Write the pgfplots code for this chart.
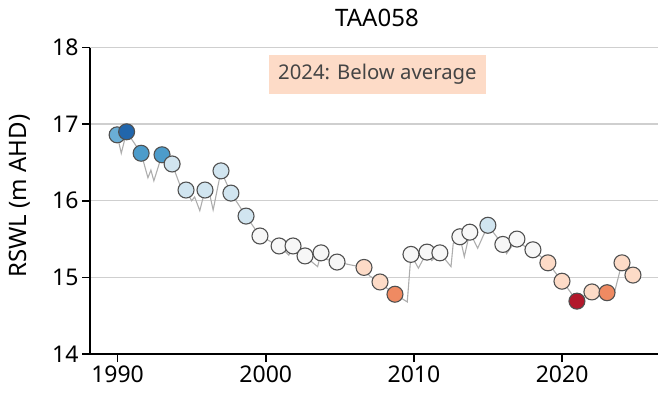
\documentclass[border=0pt]{standalone}
\usepackage{pgfplots}
\pgfplotsset{compat=1.18}
\usepackage{pgfplotstable}
\usepackage{fontspec}
\setmainfont{Noto Sans}
\definecolor{cB2}{HTML}{2166AC}
\definecolor{cB1}{HTML}{4D9CCB}
\definecolor{cB1a}{HTML}{6AAED6}
\definecolor{cL}{HTML}{D1E5F0}
\definecolor{cW}{HTML}{F7F7F7}
\definecolor{cP}{HTML}{FDDBC7}
\definecolor{cO}{HTML}{EF8A62}
\definecolor{cR}{HTML}{B2182B}
\definecolor{edge}{HTML}{505050}
\definecolor{lgray}{HTML}{ADADAD}
\definecolor{gridc}{HTML}{CFCFCF}
\definecolor{txtgray}{HTML}{444444}

\pgfplotstableread{
x y c
1989.97 16.86 b1a
1990.61 16.90 b2
1991.59 16.62 b1
1993.00 16.60 b1
1993.68 16.48 l
1994.62 16.14 l
1995.90 16.14 l
1996.98 16.39 l
1997.65 16.10 l
1998.67 15.80 l
1999.61 15.54 w
2000.90 15.41 w
2001.84 15.41 w
2002.65 15.28 w
2003.73 15.32 w
2004.81 15.20 w
2006.63 15.13 p
2007.71 14.94 p
2008.72 14.78 o
2009.80 15.30 w
2010.88 15.33 w
2011.75 15.32 w
2013.10 15.53 w
2013.77 15.59 w
2014.99 15.68 l
2016.00 15.43 w
2016.95 15.50 w
2018.03 15.36 w
2019.04 15.19 p
2019.99 14.95 p
2021.00 14.69 r
2022.01 14.81 p
2023.03 14.80 o
2024.04 15.19 p
2024.78 15.03 p
}\annual

\pgfplotstableread{
x y
1989.97 16.86
1990.25 16.62
1990.61 16.90
1991.59 16.62
1992.05 16.30
1992.25 16.40
1992.45 16.26
1993.00 16.60
1993.68 16.48
1994.45 16.08
1994.62 16.14
1995.00 16.00
1995.20 16.05
1995.55 15.87
1995.90 16.14
1996.20 16.10
1996.45 15.88
1996.98 16.39
1997.65 16.10
1998.67 15.80
1999.61 15.54
2000.90 15.41
2001.20 15.36
2001.55 15.29
2001.84 15.41
2002.65 15.28
2003.00 15.22
2003.50 15.14
2003.73 15.32
2004.00 15.24
2004.81 15.20
2005.80 15.16
2006.63 15.13
2007.00 15.02
2007.71 14.94
2008.10 14.87
2008.72 14.78
2009.55 14.68
2009.80 15.30
2010.30 15.12
2010.88 15.33
2011.20 15.22
2011.75 15.32
2012.50 15.14
2012.65 15.44
2013.10 15.53
2013.40 15.27
2013.77 15.59
2014.30 15.38
2014.99 15.68
2015.50 15.55
2016.00 15.43
2016.25 15.31
2016.95 15.50
2017.20 15.45
2017.50 15.40
2018.03 15.36
2019.04 15.19
2019.99 14.95
2020.40 14.85
2021.00 14.69
2021.50 14.76
2022.01 14.81
2022.50 14.80
2023.03 14.80
2023.50 14.78
2024.04 15.19
2024.78 15.03
}\monthly

\begin{document}
\begin{tikzpicture}
\useasboundingbox (-90pt,-40pt) rectangle (570pt,354pt);
\begin{axis}[
  at={(0pt,0pt)}, anchor=south west,
  scale only axis, width=568pt, height=306.5pt,
  xmin=1988.14, xmax=2026.47, ymin=14, ymax=18,
  axis x line*=bottom, axis y line*=left,
  xtick={1990,2000,2010,2020}, ytick={14,15,16,17,18},
  tick align=outside, major tick length=8pt,
  xticklabel style={/pgf/number format/1000 sep={}},
  /pgf/number format/assume math mode=true,
  tick label style={font=\fontsize{23}{27}\selectfont, text=black},
  ymajorgrids, grid style={color=gridc, line width=1.4pt},
  axis line style={line width=1.5pt, black},
  tick style={line width=1.5pt, black},
  title={TAA058},
  title style={at={(rel axis cs:0.5,1)}, anchor=base, yshift=15.5pt, xshift=3pt, font=\fontsize{24}{28}\selectfont},
  clip=false,
]
\addplot[only marks, scatter, scatter src=explicit symbolic, mark size=8pt,
  scatter/classes={
    b2={mark=*, fill=cB2, draw=edge, line width=1.1pt},
    b1={mark=*, fill=cB1, draw=edge, line width=1.1pt},
    b1a={mark=*, fill=cB1a, draw=edge, line width=1.1pt},
    l={mark=*, fill=cL, draw=edge, line width=1.1pt},
    w={mark=*, fill=cW, draw=edge, line width=1.1pt},
    p={mark=*, fill=cP, draw=edge, line width=1.1pt},
    o={mark=*, fill=cO, draw=edge, line width=1.1pt},
    r={mark=*, fill=cR, draw=edge, line width=1.1pt}}]
  table[x=x, y=y, meta=c] {\annual};
\addplot[color=lgray, line width=1.1pt, mark=none] table[x=x, y=y] {\monthly};
\node[fill=cP, text=txtgray, inner xsep=9.5pt, inner ysep=0pt, minimum height=39pt,
      font=\fontsize{20.3}{24}\selectfont] at (rel axis cs:0.506,0.912) {2024: Below average};
\end{axis}
\node[rotate=90, font=\fontsize{24}{28}\selectfont] at (-70pt,158pt) {RSWL (m AHD)};
\end{tikzpicture}
\end{document}
